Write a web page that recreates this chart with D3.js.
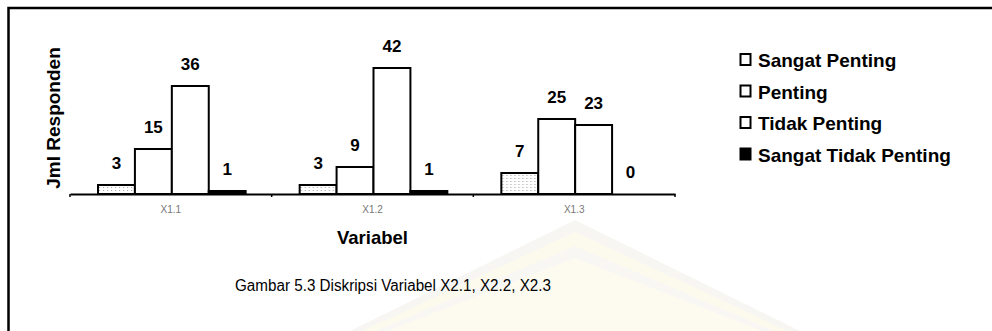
<!DOCTYPE html>
<html>
<head>
<meta charset="utf-8">
<script src="https://cdn.jsdelivr.net/npm/d3@7/dist/d3.min.js"></script>
<style>
  html, body { margin: 0; padding: 0; background: #fff; }
  svg { display: block; }
  text { font-family: "Liberation Sans", Arial, sans-serif; }
</style>
</head>
<body>
<svg id="chart" width="992" height="331"></svg>
<script>
// Respondent counts per variable and answer category
const categories = ["X1.1", "X1.2", "X1.3"];
const seriesNames = ["Sangat Penting", "Penting", "Tidak Penting", "Sangat Tidak Penting"];
const sangatPenting = [3, 3, 7];
const penting = [15, 9, 25];
const tidakPenting = [36, 42, 23];
const sangatTidakPenting = [1, 1, 0];
const yLabel = "Jml Responden";
const xLabel = "Variabel";
const caption = "Gambar 5.3 Diskripsi Variabel X2.1, X2.2, X2.3";

const seriesValues = [sangatPenting, penting, tidakPenting, sangatTidakPenting];
const fills = ["url(#dots)", "#fff", "#fff", "#000"];

const svg = d3.select("#chart");

// dotted fill for the first series
const defs = svg.append("defs");
const pat = defs.append("pattern").attr("id", "dots")
  .attr("width", 4).attr("height", 3).attr("patternUnits", "userSpaceOnUse");
pat.append("rect").attr("width", 4).attr("height", 3).attr("fill", "#fff");
pat.append("rect").attr("x", 1).attr("y", 1).attr("width", 1.2).attr("height", 1).attr("fill", "#aaa");

// faint background watermark
const wm = svg.append("g").attr("opacity", 0.55);
[[0, "#f1f0ea"], [12, "#fbf7e0"], [26, "#f3f2ec"], [38, "#fdf9e4"]].forEach(([o, c]) => {
  wm.append("path")
    .attr("d", `M${350 + o},331 L575,${220 + o} L${800 - o},331 Z`)
    .attr("fill", c);
});

// frame
svg.append("path").attr("d", "M8.5,331 L8.5,8 L992,8")
  .attr("fill", "none").attr("stroke", "#000").attr("stroke-width", 2.5);

const left = 70, right = 675, base = 194;

const x0 = d3.scaleBand().domain(categories).range([left, right]).padding(0);
const x1 = d3.scaleBand().domain(seriesNames).range([28, x0.bandwidth() - 26]).padding(0);
const y = d3.scaleLinear().domain([0, 42]).range([base, 68]);

const groups = svg.append("g").selectAll("g")
  .data(categories).join("g")
  .attr("transform", d => `translate(${x0(d)},0)`);

groups.each(function (cat, ci) {
  const g = d3.select(this);
  seriesNames.forEach((s, si) => {
    const v = seriesValues[si][ci];
    if (v > 0) {
      g.append("rect")
        .attr("x", x1(s))
        .attr("y", y(v))
        .attr("width", x1.bandwidth())
        .attr("height", y(0) - y(v))
        .attr("fill", fills[si])
        .attr("stroke", "#000")
        .attr("stroke-width", 2);
    }
    g.append("text")
      .attr("x", x1(s) + x1.bandwidth() / 2)
      .attr("y", y(v) - 16)
      .attr("text-anchor", "middle")
      .attr("font-size", 17).attr("font-weight", "bold")
      .text(v);
  });
});

// category axis
const axis = svg.append("g").attr("transform", `translate(0,${base})`)
  .call(d3.axisBottom(x0).tickSize(0).tickPadding(12));
axis.select(".domain").attr("stroke", "#000").attr("stroke-width", 2);
axis.selectAll(".tick text").attr("font-size", 10).attr("fill", "#777");
svg.append("g").selectAll("line")
  .data(categories.map(c => x0(c)).concat([right]))
  .join("line")
  .attr("x1", d => d).attr("x2", d => d)
  .attr("y1", base).attr("y2", base + 3)
  .attr("stroke", "#000").attr("stroke-width", 1.5);

// axis titles
svg.append("text")
  .attr("transform", "translate(60,118) rotate(-90)")
  .attr("text-anchor", "middle")
  .attr("font-size", 19).attr("font-weight", "bold")
  .text(yLabel);

svg.append("text")
  .attr("x", (left + right) / 2).attr("y", 244)
  .attr("text-anchor", "middle")
  .attr("font-size", 18.5).attr("font-weight", "bold")
  .text(xLabel);

svg.append("text")
  .attr("x", 393).attr("y", 291)
  .attr("text-anchor", "middle")
  .attr("font-size", 16)
  .attr("textLength", 316).attr("lengthAdjust", "spacingAndGlyphs")
  .text(caption);

// legend
const legend = svg.append("g").selectAll("g")
  .data(seriesNames).join("g")
  .attr("transform", (d, i) => `translate(740,${60 + i * 31.5})`);
legend.append("rect")
  .attr("x", 0.5).attr("y", -6).attr("width", 10).attr("height", 11)
  .attr("fill", (d, i) => i === 3 ? "#000" : "#fff")
  .attr("stroke", "#000").attr("stroke-width", 2);
legend.append("text")
  .attr("x", 18).attr("y", 7)
  .attr("font-size", 19).attr("font-weight", "bold")
  .text(d => d);
</script>
</body>
</html>
